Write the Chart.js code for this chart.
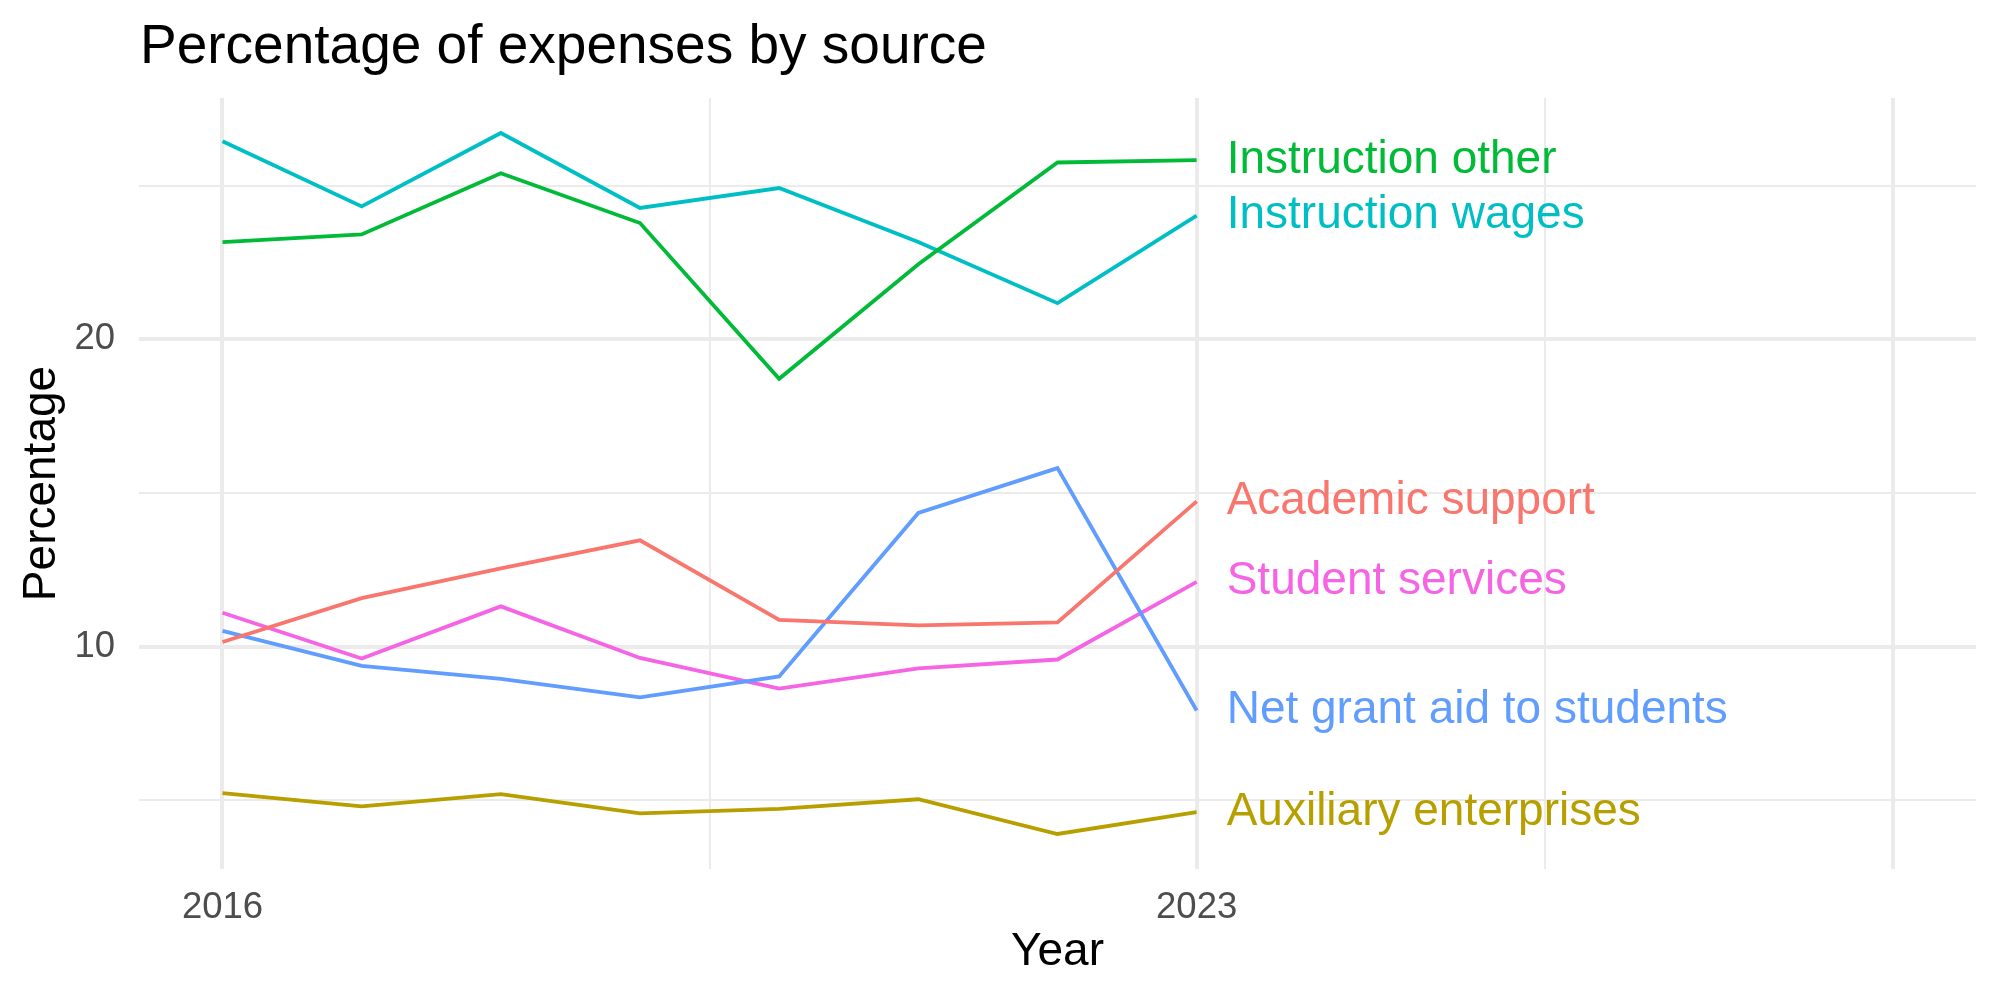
<!DOCTYPE html>
<html>
<head>
<meta charset="utf-8">
<script src="https://cdn.jsdelivr.net/npm/chart.js@4"></script>
<style>
  html, body { margin: 0; padding: 0; background: #fff; }
  #wrap { width: 2000px; height: 1000px; }
</style>
</head>
<body>
<div id="wrap"><canvas id="expenses"></canvas></div>
<script>
var years = [2016, 2017, 2018, 2019, 2020, 2021, 2022, 2023]

var academicSupport = [10.15, 11.58, 12.55, 13.46, 10.87, 10.69, 10.79, 14.73]
var auxiliaryEnterprises = [5.23, 4.80, 5.20, 4.57, 4.72, 5.03, 3.90, 4.61]
var instructionOther = [23.17, 23.42, 25.41, 23.79, 18.72, 22.45, 25.76, 25.84]
var instructionWages = [26.45, 24.33, 26.72, 24.28, 24.93, 23.17, 21.18, 24.03]
var netGrantAid = [10.51, 9.37, 8.95, 8.35, 9.03, 14.35, 15.81, 7.92]
var studentServices = [11.10, 9.61, 11.31, 9.63, 8.63, 9.29, 9.58, 12.11]

var seriesNames = ['Academic support', 'Auxiliary enterprises', 'Instruction other',
    'Instruction wages', 'Net grant aid to students', 'Student services']

var xBreaks = [2016, 2019.5, 2023, 2025.5, 2028]
var xMajor = [2016, 2023, 2028]
var xLabels = [2016, 2023]

var yBreaks = [5, 10, 15, 20, 25]
var yMajor = [10, 20]

var font = "'Liberation Sans', Arial, Helvetica, sans-serif"

var colors = ['#F8766D', '#B79F00', '#00BA38', '#00BFC4', '#619CFF', '#F564E3']
var values = [academicSupport, auxiliaryEnterprises, instructionOther,
    instructionWages, netGrantAid, studentServices]

function toPoints(arr) {
    return arr.map(function(v, i) { return { x: years[i], y: v } })
}

var datasets = seriesNames.map(function(name, i) {
    return {
        label: name,
        data: toPoints(values[i]),
        borderColor: colors[i],
        backgroundColor: colors[i],
        borderWidth: 3.8,
        pointRadius: 0,
        tension: 0,
        fill: false
    }
})

// title + end-of-line labels
var decorations = {
    id: 'decorations',
    afterDraw: function(chart) {
        var ctx = chart.ctx
        var xs = chart.scales.x
        var ys = chart.scales.y
        ctx.save()
        ctx.fillStyle = '#000'
        ctx.font = '55px ' + font
        ctx.textAlign = 'left'
        ctx.textBaseline = 'alphabetic'
        ctx.fillText('Percentage of expenses by source', 140, 63)

        ctx.font = '46px ' + font
        ctx.textBaseline = 'middle'
        chart.data.datasets.forEach(function(ds) {
            var last = ds.data[ds.data.length - 1]
            ctx.fillStyle = ds.borderColor
            ctx.fillText(ds.label, xs.getPixelForValue(last.x) + 30, ys.getPixelForValue(last.y))
        })
        ctx.restore()
    }
}

var chart = new Chart(document.getElementById('expenses'), {
    type: 'line',
    data: { datasets: datasets },
    plugins: [decorations],
    options: {
        responsive: true,
        maintainAspectRatio: false,
        animation: false,
        layout: { padding: { top: 98, right: 24, left: 0, bottom: 0 } },
        plugins: {
            legend: { display: false },
            tooltip: { enabled: false }
        },
        scales: {
            x: {
                type: 'linear',
                min: 2015.4,
                max: 2028.6,
                afterBuildTicks: function(scale) {
                    scale.ticks = xBreaks.map(function(v) { return { value: v } })
                },
                afterFit: function(scale) { scale.height = 131 },
                border: { display: false },
                grid: {
                    color: '#EBEBEB',
                    drawTicks: false,
                    lineWidth: function(c) {
                        return xMajor.indexOf(c.tick.value) >= 0 ? 4 : 2
                    }
                },
                ticks: {
                    autoSkip: false,
                    maxRotation: 0,
                    padding: 17,
                    color: '#4D4D4D',
                    font: { family: font, size: 36.5 },
                    callback: function(v) {
                        return xLabels.indexOf(v) >= 0 ? String(v) : ''
                    }
                },
                title: {
                    display: true,
                    text: 'Year',
                    color: '#000',
                    font: { family: font, size: 46 },
                    padding: { top: 0, bottom: 20 }
                }
            },
            y: {
                min: 2.76,
                max: 27.86,
                afterBuildTicks: function(scale) {
                    scale.ticks = yBreaks.map(function(v) { return { value: v } })
                },
                afterFit: function(scale) { scale.width = 139 },
                border: { display: false },
                grid: {
                    color: '#EBEBEB',
                    drawTicks: false,
                    lineWidth: function(c) {
                        return yMajor.indexOf(c.tick.value) >= 0 ? 4 : 2
                    }
                },
                ticks: {
                    autoSkip: false,
                    padding: 24,
                    color: '#4D4D4D',
                    font: { family: font, size: 36.5 },
                    callback: function(v) {
                        return yMajor.indexOf(v) >= 0 ? String(v) : ''
                    }
                },
                title: {
                    display: true,
                    text: 'Percentage',
                    color: '#000',
                    font: { family: font, size: 46 },
                    padding: { top: 15, bottom: 0 }
                }
            }
        }
    }
})
</script>
</body>
</html>
